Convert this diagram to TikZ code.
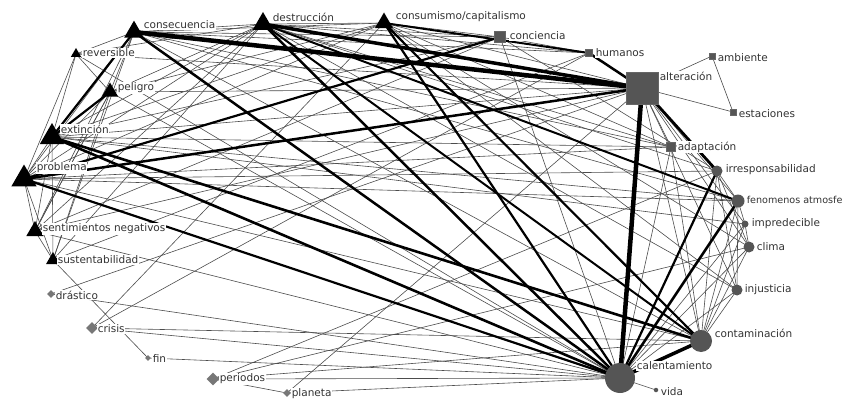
\documentclass[tikz,border=0pt]{standalone}
\usepackage{fontspec}
\setmainfont{DejaVu Sans}
\usetikzlibrary{shapes.geometric}
\definecolor{nodegray}{HTML}{555555}
\definecolor{diagray}{HTML}{777777}
\definecolor{txtgray}{HTML}{333333}
\tikzset{
  tn/.style={line width=0.6pt,draw=black!70},
  tk/.style={line width=#1,draw=black},
  tri/.style={regular polygon,regular polygon sides=3,fill=black,draw=none,inner sep=0pt,minimum size=#1},
  sq/.style={rectangle,fill=nodegray,draw=black!60,line width=0.4pt,inner sep=0pt,minimum size=#1},
  ci/.style={circle,fill=nodegray,draw=none,inner sep=0pt,minimum size=#1},
  di/.style={diamond,fill=diagray,draw=none,inner sep=0pt,minimum size=#1},
  lbl/.style={anchor=west,fill=white,inner sep=0.6pt,text=txtgray,font=\fontsize{10.5}{12}\selectfont}
}
\begin{document}
\begin{tikzpicture}[x=1pt,y=-1pt]
\useasboundingbox (0,0) rectangle (844,412);
\clip (0,0) rectangle (844,412);
% node centres
\coordinate (cons) at (134,32);
\coordinate (dest) at (263,24);
\coordinate (cap) at (384,23);
\coordinate (conc) at (500,37);
\coordinate (hum) at (589,53);
\coordinate (alt) at (642,88);
\coordinate (amb) at (712,56);
\coordinate (est) at (733,112);
\coordinate (adap) at (671,147);
\coordinate (irr) at (717,171);
\coordinate (fen) at (738,201);
\coordinate (imp) at (745,224);
\coordinate (cli) at (749,247);
\coordinate (inj) at (737,290);
\coordinate (cont) at (701,341);
\coordinate (cal) at (620,378);
\coordinate (vid) at (656,390);
\coordinate (rev) at (76,54);
\coordinate (pel) at (110,92);
\coordinate (ext) at (52,137);
\coordinate (prob) at (24,179);
\coordinate (sent) at (35,231);
\coordinate (sust) at (53,260);
\coordinate (dras) at (51,294);
\coordinate (cri) at (92,328);
\coordinate (fin) at (148,358);
\coordinate (per) at (213,379);
\coordinate (pla) at (287,393);
% thin edges
\foreach \a/\b in {
 rev/ext, rev/prob, rev/pel, rev/alt, rev/cal, rev/dest, rev/cons,
 pel/prob, pel/cons, pel/alt, pel/dest, pel/cal, pel/cap, pel/sent,
 ext/prob, ext/sent, ext/sust, ext/dest, ext/alt, ext/cap, ext/adap, ext/imp, ext/fen, ext/conc,
 prob/sent, prob/sust, prob/dest, prob/cons, prob/cap, prob/cont, prob/fen, prob/irr, prob/adap,
 sent/sust, sent/dest, sent/cons, sent/alt, sent/cal, sent/pel, sent/conc,
 sust/hum, sust/fin, sust/dest, sust/cons, sust/pel,
 dras/alt, dras/cal,
 cri/cap, cri/hum, cri/cal, cri/cont,
 fin/cal, per/cal, per/cont, per/pla, per/irr, per/cli,
 pla/cal, pla/alt,
 cons/dest, cons/cap, cons/conc, cons/adap, cons/fen, cons/cont, cons/hum,
 dest/cap, dest/conc, dest/hum, dest/adap, dest/irr, dest/inj,
 cap/conc, cap/alt, cap/cli, cap/inj, cap/adap,
 conc/hum, conc/irr, conc/cal,
 alt/amb, alt/est, amb/est, alt/adap, alt/cont, alt/fen, alt/imp, alt/cli, alt/inj,
 irr/cont, irr/fen, irr/inj, irr/cli, fen/cont, fen/imp, fen/inj, imp/cont, imp/cli, imp/cal,
 cli/cont, cli/cal, inj/cont, inj/cal, adap/cal, adap/cont, cal/vid}
 \draw[tn] (\a) -- (\b);
% thick edges
\draw[tk=4.5pt] (cons) -- (alt);
\draw[tk=3.5pt] (dest) -- (alt);
\draw[tk=2.5pt] (hum) -- (alt);
\draw[tk=2pt] (cap) -- (hum);
\draw[tk=2.5pt] (cons) -- (cal);
\draw[tk=2.5pt] (dest) -- (cal);
\draw[tk=2pt] (dest) -- (cont);
\draw[tk=2pt] (dest) -- (fen);
\draw[tk=2.2pt] (cap) -- (cal);
\draw[tk=2.2pt] (cap) -- (cont);
\draw[tk=2.6pt] (ext) -- (cal);
\draw[tk=2.6pt] (ext) -- (cont);
\draw[tk=2.2pt] (prob) -- (cal);
\draw[tk=2.5pt] (prob) -- (alt);
\draw[tk=2.2pt] (prob) -- (conc);
\draw[tk=2.2pt] (ext) -- (cons);
\draw[tk=2.2pt] (ext) -- (pel);
\draw[tk=4.5pt] (alt) -- (cal);
\draw[tk=2.8pt] (alt) -- (irr);
\draw[tk=2.2pt] (irr) -- (cal);
\draw[tk=2.6pt] (fen) -- (cal);
\draw[tk=3.5pt] (cont) -- (cal);
% node shapes
\node[tri=22.7pt] (ncons) at (cons) {};
\node[tri=24pt] (ndest) at (dest) {};
\node[tri=21pt] (ncap) at (cap) {};
\node[tri=12pt] (nrev) at (rev) {};
\node[tri=19pt] (npel) at (pel) {};
\node[tri=28pt] (next) at (ext) {};
\node[tri=29pt] (nprob) at (prob) {};
\node[tri=20pt] (nsent) at (sent) {};
\node[tri=16pt] (nsust) at (sust) {};
\node[sq=11pt] (nconc) at (conc) {};
\node[sq=7pt] (nhum) at (hum) {};
\node[sq=32pt] (nalt) at (alt) {};
\node[sq=6pt] (namb) at (amb) {};
\node[sq=6pt] (nest) at (est) {};
\node[sq=9pt] (nadap) at (adap) {};
\node[ci=11pt] (nirr) at (irr) {};
\node[ci=13pt] (nfen) at (fen) {};
\node[ci=7pt] (nimp) at (imp) {};
\node[ci=11pt] (ncli) at (cli) {};
\node[ci=11pt] (ninj) at (inj) {};
\node[ci=22pt] (ncont) at (cont) {};
\node[ci=30pt] (ncal) at (cal) {};
\node[ci=4.5pt] (nvid) at (vid) {};
\node[di=8pt] (ndras) at (dras) {};
\node[di=12pt] (ncri) at (cri) {};
\node[di=6pt] (nfin) at (fin) {};
\node[di=13pt] (nper) at (per) {};
\node[di=8pt] (npla) at (pla) {};
% labels
\node[lbl] (lcons) at (143,25) {consecuencia};
\node[lbl] (ldest) at (272,17) {destrucción};
\node[lbl] (lcap) at (395,17) {consumismo/capitalismo};
\node[lbl] (lconc) at (509,36) {conciencia};
\node[lbl] (lhum) at (595,53) {humanos};
\node[lbl] (lalt) at (659,76) {alteración};
\node[lbl] (lamb) at (717,58) {ambiente};
\node[lbl] (lest) at (738,114) {estaciones};
\node[lbl] (ladap) at (677,147) {adaptación};
\node[lbl] (lirr) at (725,170) {irresponsabilidad};
\node[lbl,font=\fontsize{9.6}{11}\selectfont] (lfen) at (746,200) {fenomenos atmosfe};
\node[lbl] (limp) at (751,224) {impredecible};
\node[lbl] (lcli) at (756,247) {clima};
\node[lbl] (linj) at (744,290) {injusticia};
\node[lbl] (lcont) at (714,333) {contaminación};
\node[lbl] (lcal) at (636,366) {calentamiento};
\node[lbl] (lvid) at (660,392) {vida};
\node[lbl] (lrev) at (82,53) {reversible};
\node[lbl] (lpel) at (117,88) {peligro};
\node[lbl] (lext) at (60,129) {extinción};
\node[lbl] (lprob) at (36,168) {problema};
\node[lbl] (lsent) at (42,229) {sentimientos negativos};
\node[lbl] (lsust) at (57,260) {sustentabilidad};
\node[lbl] (ldras) at (55,295) {drástico};
\node[lbl] (lcri) at (97,329) {crisis};
\node[lbl] (lfin) at (152,359) {fin};
\node[lbl] (lper) at (219,379) {periodos};
\node[lbl] (lpla) at (291,394) {planeta};
\end{tikzpicture}
\end{document}
